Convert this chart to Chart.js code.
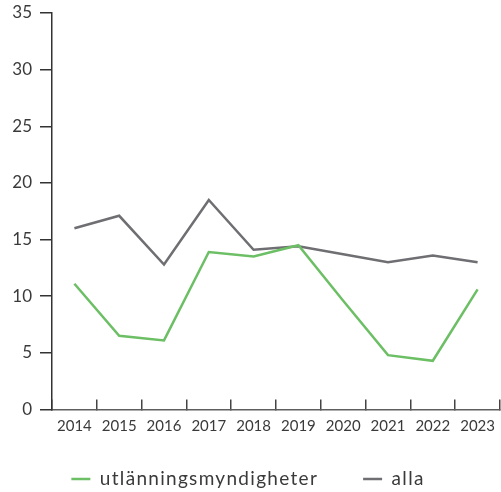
<!DOCTYPE html>
<html>
<head>
<meta charset="utf-8">
<script src="https://cdn.jsdelivr.net/npm/chart.js@4"></script>
<style>
html,body{margin:0;padding:0;background:#fff;}
#wrap{width:501px;height:492px;position:relative;}
</style>
</head>
<body>
<div id="wrap"><canvas id="c" width="501" height="492"></canvas></div>
<script>
const years = ['2014','2015','2016','2017','2018','2019','2020','2021','2022','2023'];
const utlanningsmyndigheter = [11.1, 6.5, 6.1, 13.9, 13.5, 14.5, 9.6, 4.8, 4.3, 10.6];
const alla = [16.0, 17.1, 12.8, 18.5, 14.1, 14.4, 13.7, 13.0, 13.6, 13.0];
const seriesNames = ['utlänningsmyndigheter', 'alla'];
const yTicks = [0, 5, 10, 15, 20, 25, 30, 35];

const GREEN = '#6cbf64';
const GREY = '#6f6f73';
const AXIS_Y = '#333333';
const AXIS_X = '#5e5e5e';
const TICK_X = '#444444';
const TEXT = '#3a3a3a';
const FONT = 'Lato';

const LEGEND_LS = '1.3px';
const LEGEND_H = 54.5;
const LEGEND_DY = -13;
const LEGEND_DX = -4;

// Legend text gets slight letter spacing (set right before each measure/fill call).
const legendTweak = {
  id: 'legendTweak',
  afterInit(chart) {
    const lg = chart.legend;
    if (!lg || lg._tweaked) return;
    lg._tweaked = true;
    const fit = lg.fit.bind(lg);
    const draw = lg.draw.bind(lg);
    const withSpacing = (c, fn) => {
      const mt = c.measureText, ft = c.fillText;
      c.measureText = function (t) { c.letterSpacing = LEGEND_LS; const r = mt.call(c, t); return r; };
      c.fillText = function (t, x, y, m) { c.letterSpacing = LEGEND_LS; return m === undefined ? ft.call(c, t, x, y) : ft.call(c, t, x, y, m); };
      try { fn(); } finally {
        delete c.measureText; delete c.fillText;
        c.letterSpacing = '0px';
      }
    };
    lg.fit = function () {
      withSpacing(this.ctx, () => fit());
      this.height = LEGEND_H;
    };
    lg.draw = function () {
      const t = this.top, l = this.left;
      this.top = t + LEGEND_DY;
      this.left = l + LEGEND_DX;
      withSpacing(this.ctx, () => draw());
      this.top = t;
      this.left = l;
    };
  }
};

new Chart(document.getElementById('c'), {
  type: 'line',
  data: {
    labels: years,
    datasets: [
      { label: seriesNames[0], data: utlanningsmyndigheter, borderColor: GREEN, backgroundColor: GREEN, borderWidth: 2.5, pointRadius: 0, tension: 0 },
      { label: seriesNames[1], data: alla, borderColor: GREY, backgroundColor: GREY, borderWidth: 2.5, pointRadius: 0, tension: 0 }
    ]
  },
  options: {
    responsive: false,
    animation: false,
    layout: { padding: { top: 13, right: 1, left: 0, bottom: 0 } },
    plugins: {
      tooltip: { enabled: false },
      legend: {
        position: 'bottom',
        labels: {
          usePointStyle: true,
          pointStyle: 'line',
          pointStyleWidth: 19,
          padding: 45,
          color: TEXT,
          font: { family: FONT, size: 19 }
        }
      }
    },
    scales: {
      x: {
        offset: true,
        grid: { offset: true, drawOnChartArea: false, tickLength: -10, color: TICK_X, lineWidth: 1.5 },
        border: { color: AXIS_X, width: 1.5 },
        ticks: { color: TEXT, font: { family: FONT, size: 15 }, padding: 18, maxRotation: 0, autoSkip: false },
        afterFit(s) { s.height = 28; s.paddingLeft = 0; s.paddingRight = 0; }
      },
      y: {
        min: 0, max: 35,
        afterBuildTicks(s) { s.ticks = yTicks.map(v => ({ value: v })); },
        grid: { drawOnChartArea: false, tickLength: 12, color: AXIS_Y, lineWidth: 1.5 },
        border: { color: AXIS_Y, width: 1.5 },
        ticks: { color: TEXT, font: { family: FONT, size: 17 }, padding: 8 },
        afterFit(s) { s.width = 52; s.paddingTop = 0; s.paddingBottom = 0; }
      }
    }
  },
  plugins: [legendTweak]
});
</script>
</body>
</html>
